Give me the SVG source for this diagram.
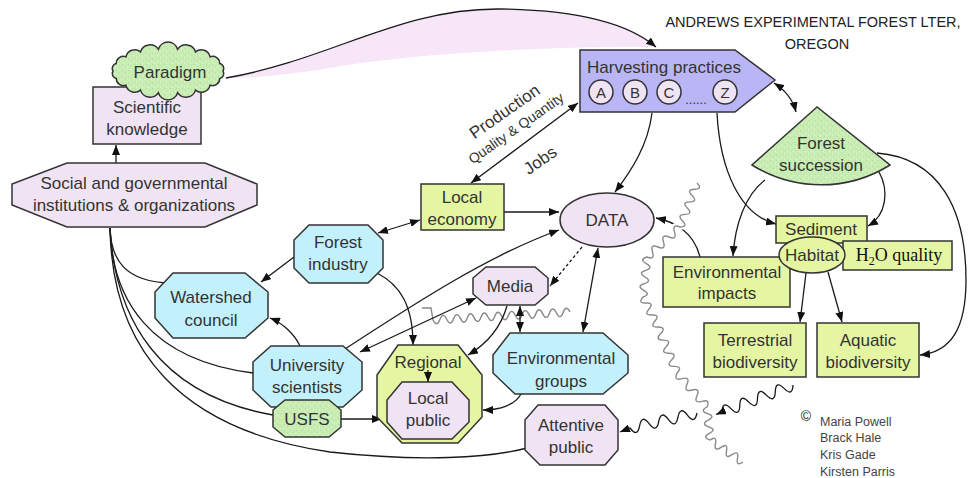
<svg xmlns="http://www.w3.org/2000/svg" width="971" height="478" viewBox="0 0 971 478">
<style>
.n{stroke:#333;stroke-width:1.5}
.lav{fill:#f0e3f3}
.cy{fill:#c3f1fb}
.yg{fill:#e5f6a2}
.gr{fill:url(#speck)}
.hv{fill:#bab6f6}
.c{fill:none;stroke:#1a1a1a;stroke-width:1.3}
.arr{marker-end:url(#ah)}
.bi{marker-start:url(#ah);marker-end:url(#ah)}
.gw{fill:none;stroke:#8a8a8a;stroke-width:1.4}
.gwu{fill:none;stroke:#fff;stroke-width:6}
text{font-family:"Liberation Sans",Arial,sans-serif;font-size:17px;fill:#333;text-anchor:middle}
.leg{font-size:12.5px;text-anchor:start;fill:#444}
.ttl{font-size:14.5px;fill:#222}
.ltr{font-size:15px}
.dots{font-size:13px}
.qq{font-size:14px}
.h2o{font-family:"Liberation Serif","Times New Roman",serif;font-size:18px;fill:#111}
.sub{font-size:12px}
.copy{font-size:14px;fill:#222}
</style>
<defs>
<marker id="ah" viewBox="0 0 10 8" refX="10" refY="4" markerWidth="10" markerHeight="8" markerUnits="userSpaceOnUse" orient="auto-start-reverse"><path d="M0,0 L10,4 L0,8 Z" fill="#111"/></marker>
<pattern id="speck" width="6" height="6" patternUnits="userSpaceOnUse"><rect width="6" height="6" fill="#c8edb4"/><rect x="1" y="1" width="1" height="1" fill="#e8f6ae"/><rect x="4" y="3" width="1" height="1" fill="#eaf7ba"/><rect x="2" y="4" width="1" height="1" fill="#aedaa8"/><rect x="5" y="0" width="1" height="1" fill="#b4dfa9"/></pattern>
</defs>
<rect width="971" height="478" fill="#fff"/>

<!-- pink lens -->
<path d="M226,78 C330,60 400,8 500,9 C580,10 630,25 656,47 C600,46 430,50 330,68 C280,76 250,78 226,78 Z" fill="#f7e5f8"/>

<g id="title">
<text class="ttl" x="813" y="27">ANDREWS EXPERIMENTAL FOREST LTER,</text>
<text class="ttl" x="817" y="49">OREGON</text>
</g>

<!-- background gray wavy line near media -->
<path class="gw" d="M422,308 L431,308 L433,320 Q436.9,327.8 439.85,319.6 T446.7,319.2 T453.55,318.8 T460.4,318.4 T467.25,318 T474.1,317.6 T480.95,317.2 T487.8,316.8 T494.65,316.4 T501.5,316 T508.35,315.6 T515.2,315.2 T522.05,314.8 T528.9,314.4 T535.75,314 T542.6,313.6 T549.45,313.2 T556.3,312.8 T563.15,312.4 T570,312"/>

<g id="connectors">
<path class="c arr" d="M116,163 L116,145"/>
<path class="c arr" d="M226,78 C330,60 400,8 500,9 C580,10 630,25 656,47"/>
<path class="c bi" d="M578,103 L471,183"/>
<path class="c arr" d="M652,113 C648,145 632,170 615,192"/>
<path class="c arr" d="M717,113 C720,170 740,215 776,224"/>
<path class="c bi" d="M774,83 C785,90 793,100 796,112"/>
<path class="c arr" d="M879,172 C889,190 887,215 868,226"/>
<path class="c arr" d="M765,180 C745,195 735,225 733,256"/>
<path class="c arr" d="M877,153 C940,158 966,210 966,280 C966,330 950,352 920,355"/>
<path class="c arr" d="M806,273 L800,322"/>
<path class="c arr" d="M828,272 L842,322"/>
<path class="c arr" d="M700,257 C697,245 690,235 682,229 C675,224 666,220 656,218"/>
<path class="c arr" d="M504,212 L559,212"/>
<path class="c bi" d="M378,233 L420,220"/>
<path class="c arr" d="M294,257 L261,282"/>
<path class="c arr" d="M300,346 C295,335 283,323 270,318"/>
<path class="c arr" d="M377,273 C400,285 413,305 413,345"/>
<path class="c arr" d="M345,349 C420,300 490,255 559,230"/>
<path class="c bi" d="M476,298 L360,352"/>
<path class="c arr" d="M507,306 C500,330 485,345 468,355"/>
<path class="c bi" d="M520,306 L520,332"/>
<path class="c arr" d="M582,247 L550,286" stroke-dasharray="3,2.5"/>
<path class="c bi" d="M598,248 L583,332"/>
<path class="c arr" d="M521,394 C515,405 500,410 483,410"/>
<path class="c arr" d="M341,419 L382,419"/>
<path class="c" d="M110,228 C111,260 125,282 171,283"/>
<path class="c" d="M110,228 C112,300 150,360 253,373"/>
<path class="c" d="M110,228 C115,320 160,395 273,415"/>
<path class="c" d="M110,228 C112,350 180,430 330,452 C420,462 490,458 527,448"/>
<path class="c arr" d="M793,385 Q792.5,397 784.1,388.4 T775.3,391.8 T766.4,395.1 T757.5,398.5 T748.6,401.9 T739.8,405.3 T730.9,408.6 T722,412 L716,414.5"/>
<path class="c arr" d="M697,413 Q694.6,424.8 687.4,415.1 T677.9,417.3 T668.3,419.4 T658.7,421.6 T649.1,423.7 T639.6,425.9 T630,428 L620,432"/>
</g>

<!-- long gray wavy line (cuts black lines) -->
<g id="gray-wave">
<path class="gwu" d="M697,183 Q703.2,189 694.6,189.3 T692.1,195.6 T689.7,201.9 T687.3,208.1 T684.9,214.4 T682.4,220.7 T680,227 Q671.9,223.6 674.5,232 T669,237 T663.5,242 T658,247 T652.5,252 T647,257 Q638.7,259.6 646.3,263.7 T645.7,270.3 T645,277 T644.3,283.7 T643.7,290.3 T643,297 Q637.4,303.6 646,303 T649,309 T652,315 T655,321 T658,327 Q666.8,327.3 660.7,333.6 T663.4,340.1 T666.1,346.7 T668.9,353.3 T671.6,359.9 T674.3,366.4 T677,373 Q673.5,381.1 682,378.7 T687,384.3 T692,390 T697,395.7 T702,401.3 T707,407 Q699.3,411 707.6,413.6 T708.2,420.2 T708.8,426.8 T709.4,433.4 T710,440 Q717.2,435.2 715.5,443.7 T721,447.3 T726.5,451 T732,454.7 T737.5,458.3 T743,462"/>
<path class="gw" d="M697,183 Q703.2,189 694.6,189.3 T692.1,195.6 T689.7,201.9 T687.3,208.1 T684.9,214.4 T682.4,220.7 T680,227 Q671.9,223.6 674.5,232 T669,237 T663.5,242 T658,247 T652.5,252 T647,257 Q638.7,259.6 646.3,263.7 T645.7,270.3 T645,277 T644.3,283.7 T643.7,290.3 T643,297 Q637.4,303.6 646,303 T649,309 T652,315 T655,321 T658,327 Q666.8,327.3 660.7,333.6 T663.4,340.1 T666.1,346.7 T668.9,353.3 T671.6,359.9 T674.3,366.4 T677,373 Q673.5,381.1 682,378.7 T687,384.3 T692,390 T697,395.7 T702,401.3 T707,407 Q699.3,411 707.6,413.6 T708.2,420.2 T708.8,426.8 T709.4,433.4 T710,440 Q717.2,435.2 715.5,443.7 T721,447.3 T726.5,451 T732,454.7 T737.5,458.3 T743,462"/>
</g>

<g id="scientific-knowledge">
<rect class="n lav" x="93" y="87" width="108" height="57"/>
<text x="147" y="113">Scientific</text>
<text x="147" y="135">knowledge</text>
</g>

<g id="paradigm">
<path class="n gr" d="M223,71 A5 5 0 0 1 219.7,78.5 A7 7 0 0 1 210.1,85.1 A9 9 0 0 1 195.5,90.1 A10 10 0 0 1 177.6,92.7 A10 10 0 0 1 158.4,92.7 A10 10 0 0 1 140.5,90.1 A9 9 0 0 1 125.9,85.1 A7 7 0 0 1 116.3,78.5 A5 5 0 0 1 113,71 A5 5 0 0 1 116.3,63.5 A7 7 0 0 1 125.9,56.9 A9 9 0 0 1 140.5,51.9 A10 10 0 0 1 158.4,49.3 A10 10 0 0 1 177.6,49.3 A10 10 0 0 1 195.5,51.9 A9 9 0 0 1 210.1,56.9 A7 7 0 0 1 219.7,63.5 A5 5 0 0 1 223,71 Z"/>
<text x="170" y="78">Paradigm</text>
</g>

<g id="social-institutions">
<polygon class="n lav" points="67,163 205,163 257,184 257,205 205,227 67,227 12,205 12,184"/>
<text x="134" y="189">Social and governmental</text>
<text x="134" y="211">institutions &amp; organizations</text>
</g>

<g id="harvesting-practices">
<polygon class="n hv" points="580,50 735,50 775,80 735,112 580,112"/>
<text x="664" y="73">Harvesting practices</text>
<circle class="n lav" cx="601" cy="92" r="12"/>
<circle class="n lav" cx="635" cy="92" r="12"/>
<circle class="n lav" cx="669" cy="92" r="12"/>
<circle class="n lav" cx="725" cy="92" r="12"/>
<text class="ltr" x="601" y="97.5">A</text>
<text class="ltr" x="635" y="97.5">B</text>
<text class="ltr" x="669" y="97.5">C</text>
<text class="ltr" x="725" y="97.5">Z</text>
<text class="dots" x="696" y="104">......</text>
</g>

<g id="labels-production">
<text x="505" y="117" transform="rotate(-35 505 112)">Production</text>
<text class="qq" x="516" y="133" transform="rotate(-35 516 128)">Quality &amp; Quantity</text>
<text x="540" y="166" transform="rotate(-35 540 160)">Jobs</text>
</g>

<g id="forest-succession">
<path class="n gr" d="M817,107 L752,165 A130 130 0 0 0 890,165 Z"/>
<text x="821" y="149">Forest</text>
<text x="821" y="171">succession</text>
</g>

<g id="local-economy">
<rect class="n yg" x="421" y="184" width="83" height="46"/>
<text x="462" y="203">Local</text>
<text x="462" y="225">economy</text>
</g>

<g id="data">
<ellipse class="n lav" cx="607" cy="220" rx="47" ry="27"/>
<text x="607" y="226">DATA</text>
</g>

<g id="sediment">
<rect class="n yg" x="776" y="216" width="91" height="27"/>
<text x="821" y="235">Sediment</text>
</g>

<g id="h2o-quality">
<rect class="n yg" x="843" y="241" width="109" height="29"/>
<text class="h2o" x="899" y="261">H<tspan class="sub" dy="4">2</tspan><tspan dy="-4">O quality</tspan></text>
</g>

<g id="environmental-impacts">
<rect class="n yg" x="663" y="257" width="127" height="50"/>
<text x="727" y="278">Environmental</text>
<text x="727" y="299">impacts</text>
</g>

<g id="habitat">
<ellipse class="n yg" cx="812" cy="255" rx="33" ry="18"/>
<text x="812" y="261">Habitat</text>
</g>

<g id="terrestrial-biodiversity">
<rect class="n yg" x="704" y="323" width="102" height="54"/>
<text x="755" y="346">Terrestrial</text>
<text x="755" y="368">biodiversity</text>
</g>

<g id="aquatic-biodiversity">
<rect class="n yg" x="817" y="323" width="102" height="54"/>
<text x="868" y="346">Aquatic</text>
<text x="868" y="368">biodiversity</text>
</g>

<g id="forest-industry">
<polygon class="n cy" points="309,225 368,225 383,240 383,268 368,283 309,283 294,268 294,240"/>
<text x="338" y="248">Forest</text>
<text x="338" y="270">industry</text>
</g>

<g id="watershed-council">
<polygon class="n cy" points="173,273 245,273 268,292 268,318 245,338 173,338 155,318 155,292"/>
<text x="211" y="303">Watershed</text>
<text x="211" y="326">council</text>
</g>

<g id="university-scientists">
<polygon class="n cy" points="271,346 343,346 362,362 362,390 343,407 271,407 253,390 253,362"/>
<text x="307" y="371">University</text>
<text x="307" y="393">scientists</text>
</g>

<g id="usfs">
<polygon class="n gr" points="285,400 329,400 341,410 341,427 329,437 285,437 273,427 273,410"/>
<text x="307" y="425">USFS</text>
</g>

<g id="media">
<polygon class="n lav" points="486,267 535,267 548,278 548,294 535,305 486,305 473,294 473,278"/>
<text x="510" y="292">Media</text>
</g>

<g id="regional">
<polygon class="n yg" points="398,345 458,345 482,375 482,417 458,443 402,443 377,417 377,375"/>
<text x="428" y="368">Regional</text>
<path class="c arr" d="M428,370 L428,382"/>
</g>

<g id="local-public">
<polygon class="n lav" points="402,382 452,382 469,400 469,422 452,439 402,439 387,422 387,400"/>
<text x="428" y="404">Local</text>
<text x="428" y="426">public</text>
</g>

<g id="environmental-groups">
<polygon class="n cy" points="510,333 603,333 628,355 628,373 603,394 515,394 493,373 493,355"/>
<text x="561" y="364">Environmental</text>
<text x="561" y="387">groups</text>
</g>

<g id="attentive-public">
<polygon class="n lav" points="538,405 605,405 618,420 618,450 605,465 540,465 525,450 525,420"/>
<text x="571" y="431">Attentive</text>
<text x="571" y="453">public</text>
</g>

<g id="credits">
<text class="copy" x="806" y="421">©</text>
<text class="leg" x="820" y="426">Maria Powell</text>
<text class="leg" x="820" y="442">Brack Hale</text>
<text class="leg" x="820" y="459">Kris Gade</text>
<text class="leg" x="820" y="476">Kirsten Parris</text>
</g>
</svg>
